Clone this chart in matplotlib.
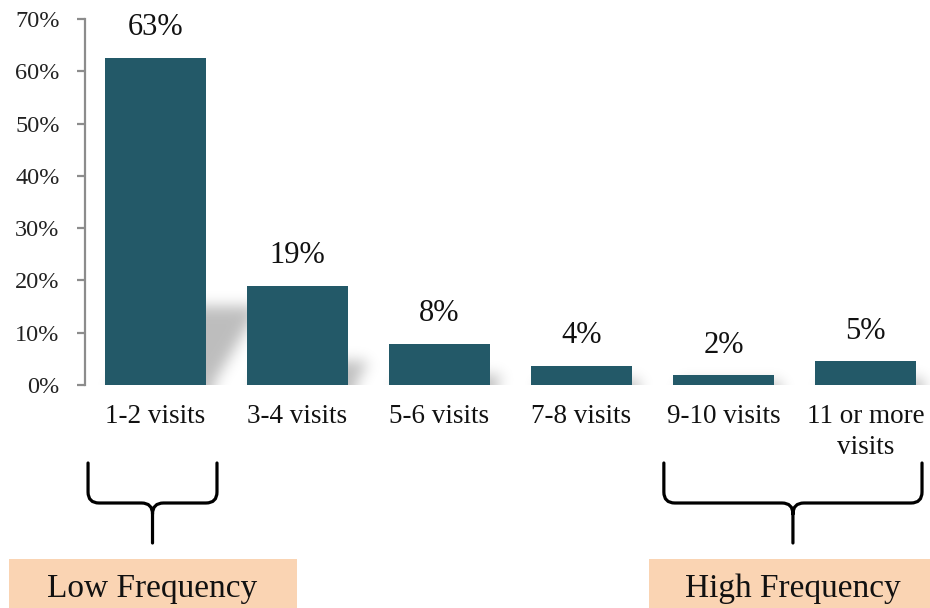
import numpy as np
import matplotlib
matplotlib.use("Agg")
import matplotlib.pyplot as plt
from matplotlib.path import Path
from matplotlib.patches import PathPatch, Rectangle
from matplotlib.transforms import blended_transform_factory

# Share of visitors by number of visits
categories = ["1-2 visits", "3-4 visits", "5-6 visits", "7-8 visits",
              "9-10 visits", "11 or more\nvisits"]
shares = [62.6, 19.0, 7.9, 3.7, 1.9, 4.6]
y_ticks = [0, 10, 20, 30, 40, 50, 60, 70]
groups = ["Low Frequency", "High Frequency"]
group_first = [0, 4]
group_last = [0, 5]

BAR_COLOR = "#235968"
BOX_COLOR = "#fad4b3"
FONT = "Liberation Serif"

W, H = 930, 608
fig = plt.figure(figsize=(W / 100, H / 100), dpi=100)
ax = fig.add_axes([84.5 / W, (H - 385) / H, 852 / W, 366 / H])

x = np.arange(len(categories))
bar_w = 0.71
ax.bar(x, shares, width=bar_w, color=BAR_COLOR, zorder=3)
ax.set_xlim(-0.5, len(categories) - 0.5)
ax.set_ylim(0, 70)

# Soft perspective shadows cast to the right of every bar
nx, ny = 852, 366
gx = np.linspace(-0.5, len(categories) - 0.5, nx)
gy = np.linspace(0, 70, ny)
GX, GY = np.meshgrid(gx, gy)
px_per_x = nx / len(categories)
px_per_y = ny / 70.0
mask = np.zeros_like(GX)
shadow_scale, shear, base_shift = 0.24, 0.6, 6 / px_per_x
for xi, v in zip(x, shares):
    hs = v * shadow_scale
    shift = base_shift + shear * (GY * px_per_y) / px_per_x
    inside = ((GY <= hs) &
              (GX >= xi - bar_w / 2 + shift) &
              (GX <= xi + bar_w / 2 + shift))
    mask[inside] = 1.0
sigma = 7.0
kx = np.arange(-3 * int(sigma), 3 * int(sigma) + 1)
kern = np.exp(-kx ** 2 / (2 * sigma ** 2))
kern /= kern.sum()
pad = len(kern)
padded = np.pad(mask, ((pad, 0), (0, 0)), mode="edge")
padded = np.apply_along_axis(lambda r: np.convolve(r, kern, "same"), 1, padded)
padded = np.apply_along_axis(lambda c: np.convolve(c, kern, "same"), 0, padded)
blur = padded[pad:, :]
rgba = np.zeros((ny, nx, 4))
rgba[..., 3] = blur * 0.26
ax.imshow(rgba, extent=[-0.5, len(categories) - 0.5, 0, 70], origin="lower",
          aspect="auto", interpolation="bilinear", zorder=1)

# Value labels
for xi, v in zip(x, shares):
    ax.annotate(f"{round(v)}%", (xi, v), xytext=(0, 11), textcoords="offset points",
                ha="center", va="bottom", fontsize=22, family=FONT, color="#111111")

# Axes styling
for s in ["top", "right", "bottom"]:
    ax.spines[s].set_visible(False)
ax.spines["left"].set_color("#8c8c8c")
ax.spines["left"].set_linewidth(1.6)
ax.set_yticks(y_ticks)
ax.set_yticklabels([f"{t}%" for t in y_ticks], fontsize=17.5, family=FONT,
                   color="#222222")
ax.tick_params(axis="y", length=6, width=1.6, color="#8c8c8c", pad=12)
ax.set_xticks(x)
ax.set_xticklabels(categories, fontsize=19.5, family=FONT, color="#111111",
                   linespacing=1.3, va="top")
ax.tick_params(axis="x", length=0, pad=14)
ax.patch.set_visible(False)

# Curly braces grouping the categories
tr = blended_transform_factory(ax.transData, fig.transFigure)
y_top = 1 - 463 / H
y_mid = 1 - 503 / H
y_tip = 1 - 543 / H
ry = 11 / H
rx = 11 / px_per_x


def brace(xa, xb):
    xc = (xa + xb) / 2
    verts = [(xa, y_top), (xa, y_mid + ry), (xa, y_mid), (xa + rx, y_mid),
             (xc - rx, y_mid), (xc, y_mid), (xc, y_mid - ry), (xc, y_tip),
             (xb, y_top), (xb, y_mid + ry), (xb, y_mid), (xb - rx, y_mid),
             (xc + rx, y_mid), (xc, y_mid), (xc, y_mid - ry)]
    codes = [Path.MOVETO, Path.LINETO, Path.CURVE3, Path.CURVE3,
             Path.LINETO, Path.CURVE3, Path.CURVE3, Path.LINETO,
             Path.MOVETO, Path.LINETO, Path.CURVE3, Path.CURVE3,
             Path.LINETO, Path.CURVE3, Path.CURVE3]
    p = PathPatch(Path(verts, codes), transform=tr, fill=False, lw=2.3,
                  edgecolor="#000000", clip_on=False, capstyle="round",
                  joinstyle="round")
    fig.add_artist(p)
    return xc


brace_reach = [(-0.475, 0.433), (-0.42, 0.398)]
box_spans = [(9, 297), (649, 930)]
for name, i0, i1, (lo, hi), (b0, b1) in zip(groups, group_first, group_last,
                                             brace_reach, box_spans):
    xc = brace(i0 + lo, i1 + hi)
    fig.add_artist(Rectangle((b0 / W, 0), (b1 - b0) / W, (H - 559) / H,
                             transform=fig.transFigure, facecolor=BOX_COLOR,
                             edgecolor="none", zorder=0))
    fig.text(xc, 1 - 589 / H, name, transform=tr, fontsize=24, family=FONT,
             ha="center", va="center", color="#111111")

fig.savefig("out.png", dpi=100)
